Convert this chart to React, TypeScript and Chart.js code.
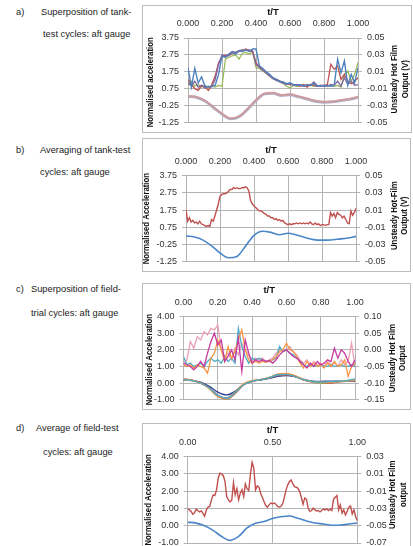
import { useEffect, useRef } from "react";
import { Chart, registerables } from "chart.js";

Chart.register(...registerables);

const FONT = '"Liberation Sans", Arial, sans-serif';
const GRID = "#b4b4b4";
const TICK_TEXT = "#333333";

// t/T sample grids
const T_COARSE = [0, 0.05, 0.1, 0.15, 0.2, 0.25, 0.3, 0.35, 0.4, 0.45, 0.5, 0.55, 0.6, 0.65, 0.7, 0.75, 0.8, 0.85, 0.9, 0.95, 1];
const T_MID = [
  0, 0.02, 0.04, 0.06, 0.08, 0.1, 0.12, 0.14, 0.16, 0.18,
  0.2, 0.22, 0.24, 0.26, 0.28, 0.3, 0.32, 0.34, 0.36, 0.38,
  0.4, 0.42, 0.44, 0.46, 0.48, 0.5, 0.52, 0.54, 0.56, 0.58,
  0.6, 0.62, 0.64, 0.66, 0.68, 0.7, 0.72, 0.74, 0.76, 0.78,
  0.8, 0.82, 0.84, 0.86, 0.88, 0.9, 0.92, 0.94, 0.96, 0.98,
  1,
];
const T_FINE = [
  0, 0.01, 0.02, 0.03, 0.04, 0.05, 0.06, 0.07, 0.08, 0.09,
  0.1, 0.11, 0.12, 0.13, 0.14, 0.15, 0.16, 0.17, 0.18, 0.19,
  0.2, 0.21, 0.22, 0.23, 0.24, 0.25, 0.26, 0.27, 0.28, 0.29,
  0.3, 0.31, 0.32, 0.33, 0.34, 0.35, 0.36, 0.37, 0.38, 0.39,
  0.4, 0.41, 0.42, 0.43, 0.44, 0.45, 0.46, 0.47, 0.48, 0.49,
  0.5, 0.51, 0.52, 0.53, 0.54, 0.55, 0.56, 0.57, 0.58, 0.59,
  0.6, 0.61, 0.62, 0.63, 0.64, 0.65, 0.66, 0.67, 0.68, 0.69,
  0.7, 0.71, 0.72, 0.73, 0.74, 0.75, 0.76, 0.77, 0.78, 0.79,
  0.8, 0.81, 0.82, 0.83, 0.84, 0.85, 0.86, 0.87, 0.88, 0.89,
  0.9, 0.91, 0.92, 0.93, 0.94, 0.95, 0.96, 0.97, 0.98, 0.99,
  1,
];

// axis tick values
const X_TICKS_FIFTHS = [0, 0.2, 0.4, 0.6, 0.8, 1];
const X_TICKS_HALVES = [0, 0.5, 1];
const ACC_TICKS_TANK = [-1.25, -0.25, 0.75, 1.75, 2.75, 3.75];
const ACC_TICKS_FIELD = [-1, 0, 1, 2, 3, 4];
const HF_TICKS_TANK = [-0.05, -0.03, -0.01, 0.01, 0.03, 0.05];
const HF_TICKS_FIELD_C = [-0.15, -0.1, -0.05, 0, 0.05, 0.1];
const HF_TICKS_FIELD_D = [-0.07, -0.05, -0.03, -0.01, 0.01, 0.03];

// (a) tank-test cycles, hot-film output (V)
const hfTankBlue = [
  0.015, -0.008, 0.014, -0.003, 0.004, -0.007, -0.008, -0.007, -0.006, 0.007,
  0.029, 0.027, 0.030, 0.033, 0.031, 0.035, 0.034, 0.036, 0.034, 0.037,
  0.037, 0.017, 0.014, 0.010, 0.007, 0.003, 0.001, -0.001, -0.002, -0.004,
  -0.003, -0.005, -0.006, -0.005, -0.007, -0.006, -0.006, -0.004, -0.007, -0.006,
  -0.007, -0.006, -0.007, -0.006, 0.025, 0.009, 0.023, -0.006, 0.007, -0.003,
  0.015,
];
const hfTankRed = [
  0.001, -0.005, -0.010, -0.012, -0.006, -0.008, -0.012, -0.005, 0.005, 0.021,
  0.027, 0.030, 0.029, 0.032, 0.033, 0.034, 0.035, 0.037, 0.035, 0.034,
  0.021, 0.016, 0.013, 0.009, 0.006, 0.003, 0.001, -0.001, -0.003, -0.004,
  -0.005, -0.005, -0.006, -0.007, -0.005, -0.008, -0.005, -0.006, -0.007, -0.006,
  -0.006, -0.005, 0.019, 0.013, 0.017, 0.001, 0.007, -0.001, -0.004, -0.001,
  0.003,
];
const hfTankPurple = [
  -0.003, -0.007, -0.001, -0.008, -0.006, -0.009, -0.007, -0.008, 0.001, 0.019,
  0.030, 0.028, 0.031, 0.034, 0.033, 0.035, 0.036, 0.035, 0.036, 0.035,
  0.019, 0.015, 0.012, 0.009, 0.005, 0.002, 0.000, -0.002, -0.003, -0.005,
  -0.004, -0.006, -0.005, -0.006, -0.007, -0.005, -0.006, -0.002, -0.006, -0.007,
  -0.006, -0.007, -0.005, -0.006, -0.001, -0.007, 0.003, -0.005, -0.001, -0.006,
  -0.005,
];
const hfTankGreen = [
  -0.005, -0.001, -0.007, -0.005, -0.008, -0.006, -0.009, -0.007, -0.008, -0.006,
  -0.007, 0.025, 0.027, 0.029, 0.030, 0.025, 0.032, 0.033, 0.031, 0.034,
  0.015, 0.014, 0.011, 0.008, 0.005, 0.002, 0.000, -0.002, -0.004, -0.007,
  -0.009, -0.006, -0.007, -0.006, -0.005, -0.007, -0.006, -0.007, -0.006, -0.007,
  -0.006, -0.007, -0.006, -0.007, -0.006, -0.008, 0.007, 0.011, -0.001, 0.007,
  0.021,
];
// (a) normalised acceleration
const accTankA1 = [0.32, 0.27, 0.05, -0.33, -0.72, -1.0, -0.88, -0.44, 0.08, 0.47, 0.51, 0.38, 0.42, 0.3, 0.17, 0.04, -0.02, 0.0, 0.08, 0.15, 0.27];
const accTankA2 = [0.29, 0.24, 0.02, -0.36, -0.75, -1.03, -0.91, -0.47, 0.05, 0.44, 0.48, 0.35, 0.39, 0.27, 0.14, 0.01, -0.05, -0.03, 0.05, 0.12, 0.24];

// (b) averaged tank-test cycle
const hfTankMean = [
  0.010, -0.003, 0.001, -0.004, -0.002, -0.005, -0.004, -0.006, -0.003, -0.006,
  -0.007, -0.008, -0.009, -0.008, -0.009, -0.001, -0.003, 0.003, 0.010, 0.017,
  0.026, 0.028, 0.029, 0.029, 0.030, 0.032, 0.034, 0.034, 0.036, 0.035,
  0.036, 0.035, 0.035, 0.036, 0.036, 0.037, 0.036, 0.032, 0.021, 0.017,
  0.015, 0.013, 0.011, 0.009, 0.009, 0.008, 0.006, 0.005, 0.003, 0.003,
  0.001, 0.001, -0.001, 0.000, -0.002, -0.001, -0.003, -0.002, -0.005, -0.006,
  -0.007, -0.006, -0.007, -0.006, -0.006, -0.005, -0.006, -0.005, -0.006, -0.005,
  -0.006, -0.005, -0.006, -0.004, -0.006, -0.007, -0.005, -0.007, -0.006, -0.008,
  -0.007, -0.007, -0.008, -0.007, -0.007, 0.007, 0.003, 0.006, 0.001, 0.007,
  0.005, 0.004, 0.001, 0.003, -0.001, -0.005, -0.006, 0.009, 0.004, 0.007,
  0.012,
];
const accTankMean = [0.24, 0.18, 0.0, -0.33, -0.75, -1.03, -0.95, -0.35, 0.28, 0.52, 0.45, 0.31, 0.4, 0.3, 0.15, 0.03, 0.0, 0.01, 0.06, 0.12, 0.22];

// (c) field-trial cycles, hot-film output
const hfFieldPink = [
  -0.04, -0.03, 0.025, 0.005, 0.04, 0.03, 0.055, 0.045, 0.065, 0.06,
  0.075, 0.0, -0.02, -0.01, -0.03, 0.005, -0.015, 0.02, 0.0, -0.015,
  -0.035, -0.025, -0.03, -0.025, -0.035, -0.03, -0.025, -0.01, 0.0, -0.005,
  0.0, 0.01, -0.005, -0.015, -0.03, -0.04, -0.03, -0.05, -0.035, -0.045,
  -0.04, -0.05, -0.035, -0.045, -0.04, -0.05, -0.03, -0.045, -0.035, 0.02,
  -0.05,
];
const hfFieldMagenta = [
  -0.04, -0.045, -0.05, -0.06, -0.05, -0.035, -0.05, -0.01, 0.025, 0.05,
  0.015, 0.03, -0.035, -0.02, 0.0, -0.03, 0.035, -0.065, 0.03, -0.01,
  -0.04, -0.03, -0.035, -0.03, -0.035, -0.0325, -0.04, -0.03, -0.015, -0.005,
  0.0, -0.01, -0.02, -0.025, -0.035, -0.045, -0.055, -0.04, -0.05, -0.035,
  -0.045, -0.04, -0.03, -0.035, 0.005, -0.025, 0.0, -0.01, -0.035, -0.05,
  -0.03,
];
const hfFieldOrange = [
  -0.045, -0.05, -0.045, -0.055, -0.045, -0.05, -0.055, -0.07, -0.025, -0.01,
  0.03, 0.0, -0.035, 0.01, -0.025, -0.005, 0.03, 0.06, 0.0, -0.03,
  -0.04, -0.035, -0.04, -0.035, -0.0375, -0.035, -0.03, -0.02, -0.005, 0.0,
  0.02, 0.0, -0.005, -0.02, -0.04, -0.055, -0.035, -0.05, -0.04, -0.05,
  -0.045, -0.055, -0.04, -0.05, -0.035, -0.05, -0.045, -0.03, -0.08, -0.05,
  -0.04,
];
const hfFieldCyan = [
  -0.02, -0.045, -0.04, -0.05, -0.045, -0.04, -0.05, -0.035, -0.025, -0.035,
  -0.03, -0.04, -0.02, -0.035, -0.025, -0.04, 0.065, 0.01, -0.02, -0.04,
  -0.025, -0.03, -0.025, -0.03, -0.035, -0.035, -0.03, -0.025, 0.01, -0.005,
  0.0, -0.01, -0.015, -0.025, -0.035, -0.045, -0.05, -0.045, -0.05, -0.05,
  -0.045, -0.05, -0.05, -0.045, -0.05, -0.05, -0.045, -0.05, -0.05, -0.045,
  -0.05,
];
// (c) normalised acceleration of each field cycle
const accFieldNavy = [0.2, 0.16, 0.05, -0.2, -0.55, -0.72, -0.5, -0.1, 0.1, 0.18, 0.28, 0.4, 0.45, 0.38, 0.22, 0.12, 0.1, 0.12, 0.12, 0.1, 0.12];
const accFieldRed = [0.25, 0.18, 0.02, -0.3, -0.78, -1.0, -0.65, -0.12, 0.1, 0.2, 0.3, 0.48, 0.5, 0.4, 0.18, 0.06, 0.0, -0.02, 0.06, 0.1, 0.15];
const accFieldGreen = [0.2, 0.15, 0.0, -0.32, -0.8, -0.98, -0.6, -0.1, 0.12, 0.2, 0.32, 0.5, 0.55, 0.42, 0.2, 0.08, 0.0, 0.02, 0.08, 0.12, 0.18];
const accFieldOrange = [0.22, 0.16, 0.0, -0.35, -0.82, -0.95, -0.55, -0.05, 0.15, 0.22, 0.35, 0.55, 0.58, 0.45, 0.22, 0.1, 0.05, 0.02, 0.1, 0.15, 0.2];
const accFieldPurple = [0.18, 0.14, -0.02, -0.3, -0.72, -0.9, -0.55, -0.08, 0.12, 0.2, 0.3, 0.45, 0.48, 0.38, 0.2, 0.1, 0.08, 0.06, 0.1, 0.12, 0.15];
const accFieldCyan = [0.2, 0.15, 0.0, -0.3, -0.75, -0.92, -0.58, -0.1, 0.12, 0.2, 0.32, 0.5, 0.52, 0.4, 0.2, 0.1, 0.05, 0.08, 0.12, 0.15, 0.25];

// (d) averaged field-test cycle
const hfFieldMean = [
  -0.0304, -0.0316, -0.0334, -0.0366, -0.035, -0.0308, -0.0324, -0.034, -0.0328, -0.0358,
  -0.039, -0.0316, -0.0284, -0.0276, -0.02, -0.0142, -0.015, -0.0084, 0.005, 0.0108,
  0.01, 0.008, 0.0012, -0.0162, -0.02, -0.0224, -0.02, 0.0, -0.0142, -0.007,
  -0.02, -0.0124, -0.0084, -0.0162, -0.0016, -0.007, -0.0092, 0.01, 0.0234, 0.0166,
  -0.0084, -0.0038, -0.0054, -0.0124, -0.017, -0.022, -0.0266, -0.0284, -0.0258, -0.0238,
  -0.0246, -0.0238, -0.025, -0.0276, -0.0284, -0.0276, -0.0246, -0.017, -0.0084, -0.0026,
  0.0012, 0.003, -0.0016, -0.0046, -0.0054, -0.0066, -0.0104, -0.017, -0.025, -0.018,
  -0.0192, -0.0296, -0.0334, -0.0324, -0.0296, -0.0316, -0.033, -0.0324, -0.034, -0.0324,
  -0.0308, -0.0316, -0.0304, -0.0324, -0.0308, -0.0324, -0.0192, -0.017, -0.015, -0.0316,
  -0.0258, -0.0354, -0.0316, -0.0374, -0.0334, -0.0284, -0.027, -0.0362, -0.0316, -0.0392,
  -0.0442,
];
const accFieldMean = [0.21, 0.15, 0.0, -0.27, -0.62, -0.85, -0.62, -0.13, 0.15, 0.24, 0.42, 0.52, 0.56, 0.43, 0.28, 0.16, 0.1, 0.03, 0.04, 0.1, 0.16];

type Series = { t: number[]; v: number[]; axis: "acc" | "hf"; color: string; width: number; smooth?: boolean };

type Panel = {
  key: string;
  box: { left: number; top: number; width: number; height: number };
  inset: { left: number; right: number; top: number; bottom: number };
  xTicks: number[];
  xDecimals: number;
  acc: { min: number; max: number; ticks: number[] };
  hf: { min: number; max: number; ticks: number[] };
  accTitle: string;
  hfTitle: string[];
  titlePos: { top: number; left: number; right: number[]; leftShift: number; rightShift: number };
  series: Series[];
};

const RED = "#c0504d";
const BLUE = "#4f81bd";
const GREEN = "#9bbb59";
const PURPLE = "#8064a2";
const CYAN = "#4bacc6";
const ORANGE = "#f79646";

const PANELS: Panel[] = [
  {
    key: "a",
    box: { left: 142, top: 5, width: 270, height: 128 },
    inset: { left: 46, right: 54, top: 33, bottom: 7 },
    xTicks: X_TICKS_FIFTHS,
    xDecimals: 3,
    acc: { min: -1.25, max: 3.75, ticks: ACC_TICKS_TANK },
    hf: { min: -0.05, max: 0.05, ticks: HF_TICKS_TANK },
    accTitle: "Normalised acceleration",
    hfTitle: ["Unsteady Hot Film", "Output (V)"],
    titlePos: { top: 26, left: 38, right: [36, 47], leftShift: 2, rightShift: -1 },
    series: [
      { t: T_MID, v: hfTankBlue, axis: "hf", color: BLUE, width: 1.4 },
      { t: T_MID, v: hfTankPurple, axis: "hf", color: PURPLE, width: 1.3 },
      { t: T_MID, v: hfTankRed, axis: "hf", color: RED, width: 1.3 },
      { t: T_MID, v: hfTankGreen, axis: "hf", color: GREEN, width: 1.3 },
      { t: T_COARSE, v: accTankA1, axis: "acc", color: "rgba(214,150,150,0.85)", width: 2, smooth: true },
      { t: T_COARSE, v: accTankA2, axis: "acc", color: "#a9b2c9", width: 2.8, smooth: true },
    ],
  },
  {
    key: "b",
    box: { left: 142, top: 138, width: 269, height: 134 },
    inset: { left: 44, right: 55, top: 37.7, bottom: 7.7 },
    xTicks: X_TICKS_FIFTHS,
    xDecimals: 3,
    acc: { min: -1.25, max: 3.75, ticks: ACC_TICKS_TANK },
    hf: { min: -0.05, max: 0.05, ticks: HF_TICKS_TANK },
    accTitle: "Normalised Acceleration",
    hfTitle: ["Unsteady Hot-Film", "Output (V)"],
    titlePos: { top: 25, left: 39.5, right: [38, 48], leftShift: 0, rightShift: -3 },
    series: [
      { t: T_FINE, v: hfTankMean, axis: "hf", color: RED, width: 1.4 },
      { t: T_COARSE, v: accTankMean, axis: "acc", color: "#4a86c8", width: 1.6, smooth: true },
    ],
  },
  {
    key: "c",
    box: { left: 142, top: 283, width: 269, height: 127 },
    inset: { left: 41.5, right: 56, top: 33.7, bottom: 5.7 },
    xTicks: X_TICKS_FIFTHS,
    xDecimals: 2,
    acc: { min: -1, max: 4, ticks: ACC_TICKS_FIELD },
    hf: { min: -0.15, max: 0.1, ticks: HF_TICKS_FIELD_C },
    accTitle: "Normalised Acceleration",
    hfTitle: ["Unsteady Hot Film", "Output"],
    titlePos: { top: 26.7, left: 34.5, right: [37.3, 47.7], leftShift: 1.5, rightShift: 0 },
    series: [
      { t: T_MID, v: hfFieldMagenta, axis: "hf", color: "#c6399f", width: 1.3 },
      { t: T_MID, v: hfFieldOrange, axis: "hf", color: ORANGE, width: 1.3 },
      { t: T_MID, v: hfFieldCyan, axis: "hf", color: CYAN, width: 1.3 },
      { t: T_MID, v: hfFieldPink, axis: "hf", color: "#ec9fb2", width: 1.3 },
      { t: T_COARSE, v: accFieldCyan, axis: "acc", color: CYAN, width: 1.3, smooth: true },
      { t: T_COARSE, v: accFieldOrange, axis: "acc", color: ORANGE, width: 1.3, smooth: true },
      { t: T_COARSE, v: accFieldGreen, axis: "acc", color: GREEN, width: 1.3, smooth: true },
      { t: T_COARSE, v: accFieldRed, axis: "acc", color: RED, width: 1.3, smooth: true },
      { t: T_COARSE, v: accFieldPurple, axis: "acc", color: PURPLE, width: 1.3, smooth: true },
      { t: T_COARSE, v: accFieldNavy, axis: "acc", color: "#2f3f8f", width: 1.3, smooth: true },
    ],
  },
  {
    key: "d",
    box: { left: 142, top: 423, width: 269, height: 135 },
    inset: { left: 45.7, right: 53.7, top: 33.7, bottom: 15 },
    xTicks: X_TICKS_HALVES,
    xDecimals: 2,
    acc: { min: -1, max: 4, ticks: ACC_TICKS_FIELD },
    hf: { min: -0.07, max: 0.03, ticks: HF_TICKS_FIELD_D },
    accTitle: "Normalised Acceleration",
    hfTitle: ["Unsteady Hot Film", "output"],
    titlePos: { top: 26.7, left: 39.4, right: [35, 46], leftShift: 0, rightShift: -5 },
    series: [
      { t: T_FINE, v: hfFieldMean, axis: "hf", color: RED, width: 1.4 },
      { t: T_COARSE, v: accFieldMean, axis: "acc", color: "#4a86c8", width: 1.6, smooth: true },
    ],
  },
];

const CAPTIONS = [
  { left: 16, y: 11.5, text: "a)" },
  { left: 41, y: 11.5, text: "Superposition of tank-" },
  { left: 43, y: 33.5, text: "test cycles: aft gauge" },
  { left: 16, y: 149.5, text: "b)" },
  { left: 40, y: 149.5, text: "Averaging of tank-test" },
  { left: 40, y: 172, text: "cycles: aft gauge" },
  { left: 16, y: 289, text: "c)" },
  { left: 31, y: 289, text: "Superposition of field-" },
  { left: 31, y: 313, text: "trial cycles: aft gauge" },
  { left: 16, y: 428, text: "d)" },
  { left: 36, y: 428, text: "Average of field-test" },
  { left: 43, y: 451.7, text: "cycles: aft gauge" },
];

function drawRotated(ctx: CanvasRenderingContext2D, text: string, x: number, y: number) {
  ctx.save();
  ctx.translate(x, y);
  ctx.rotate(-Math.PI / 2);
  const w = ctx.measureText(text).width;
  ctx.fillText(text, 0, 0, w * 0.82);
  ctx.restore();
}

function PanelChart({ p }: { p: Panel }) {
  const ref = useRef<HTMLCanvasElement | null>(null);

  useEffect(() => {
    const canvas = ref.current;
    if (!canvas) return;

    const frameAndTitles = {
      id: "frameAndTitles",
      beforeDraw(chart: any) {
        const { ctx, width, height } = chart;
        ctx.save();
        ctx.fillStyle = "#ffffff";
        ctx.fillRect(0, 0, width, height);
        ctx.strokeStyle = "#bdbdbd";
        ctx.lineWidth = 1;
        ctx.strokeRect(0.5, 0.5, width - 1, height - 1);
        ctx.restore();
      },
      afterDraw(chart: any) {
        const { ctx, chartArea: a } = chart;
        const midY = (a.top + a.bottom) / 2;
        ctx.save();
        ctx.fillStyle = "#111111";
        ctx.textAlign = "center";
        ctx.textBaseline = "middle";
        ctx.font = `bold 9.5px ${FONT}`;
        ctx.fillText("t/T", (a.left + a.right) / 2, a.top - p.titlePos.top);
        drawRotated(ctx, p.accTitle, a.left - p.titlePos.left, midY + p.titlePos.leftShift);
        p.hfTitle.forEach((line, i) => {
          drawRotated(ctx, line, a.right + p.titlePos.right[i], midY + p.titlePos.rightShift);
        });
        ctx.restore();
      },
    };

    const tickFont = { family: FONT, size: 9 };

    const chart = new Chart(canvas, {
      type: "line",
      data: {
        datasets: p.series.map((s) => ({
          data: s.t.map((t, i) => ({ x: t, y: s.v[i] })),
          yAxisID: s.axis,
          borderColor: s.color,
          borderWidth: s.width,
          pointRadius: 0,
          fill: false,
          tension: s.smooth ? 0.4 : 0,
          cubicInterpolationMode: s.smooth ? "monotone" : "default",
        })),
      },
      options: {
        animation: false,
        responsive: false,
        events: [],
        layout: { padding: { left: 0, right: 0, top: 0, bottom: p.inset.bottom }, autoPadding: false },
        plugins: { legend: { display: false }, tooltip: { enabled: false } },
        scales: {
          x: {
            type: "linear",
            position: "top",
            min: 0,
            max: 1,
            afterFit: (s: any) => {
              s.height = p.inset.top;
            },
            afterBuildTicks: (s: any) => {
              s.ticks = p.xTicks.map((v) => ({ value: v }));
            },
            ticks: {
              font: tickFont,
              color: TICK_TEXT,
              padding: 9,
              maxRotation: 0,
              autoSkip: false,
              callback: (v: any) => Number(v).toFixed(p.xDecimals),
            },
            grid: { color: GRID, drawTicks: false },
            border: { color: GRID },
          },
          acc: {
            type: "linear",
            position: "left",
            min: p.acc.min,
            max: p.acc.max,
            afterFit: (s: any) => {
              s.width = p.inset.left;
            },
            afterBuildTicks: (s: any) => {
              s.ticks = p.acc.ticks.map((v) => ({ value: v }));
            },
            ticks: {
              font: tickFont,
              color: TICK_TEXT,
              padding: 5,
              autoSkip: false,
              callback: (v: any) => Number(v).toFixed(2),
            },
            grid: { color: GRID, tickLength: 4 },
            border: { color: GRID },
          },
          hf: {
            type: "linear",
            position: "right",
            min: p.hf.min,
            max: p.hf.max,
            afterFit: (s: any) => {
              s.width = p.inset.right;
            },
            afterBuildTicks: (s: any) => {
              s.ticks = p.hf.ticks.map((v) => ({ value: v }));
            },
            ticks: {
              font: tickFont,
              color: TICK_TEXT,
              padding: 5,
              autoSkip: false,
              callback: (v: any) => Number(v).toFixed(2),
            },
            grid: { color: GRID, tickLength: 4, drawOnChartArea: false },
            border: { color: GRID },
          },
        },
      } as any,
      plugins: [frameAndTitles],
    });

    return () => chart.destroy();
  }, [p]);

  return (
    <canvas
      ref={ref}
      width={p.box.width}
      height={p.box.height}
      style={{ position: "absolute", left: p.box.left, top: p.box.top, width: p.box.width, height: p.box.height }}
    />
  );
}

export default function App() {
  return (
    <div
      style={{
        position: "fixed",
        left: 0,
        top: 0,
        width: 413,
        height: 546,
        overflow: "hidden",
        background: "#ffffff",
      }}
    >
      {CAPTIONS.map((c, i) => (
        <div
          key={i}
          style={{
            position: "absolute",
            left: c.left,
            top: c.y - 6,
            height: 12,
            lineHeight: "12px",
            fontFamily: FONT,
            fontSize: "9.3px",
            color: "#1c1c1c",
            whiteSpace: "nowrap",
          }}
        >
          {c.text}
        </div>
      ))}
      {PANELS.map((p) => (
        <PanelChart key={p.key} p={p} />
      ))}
    </div>
  );
}
